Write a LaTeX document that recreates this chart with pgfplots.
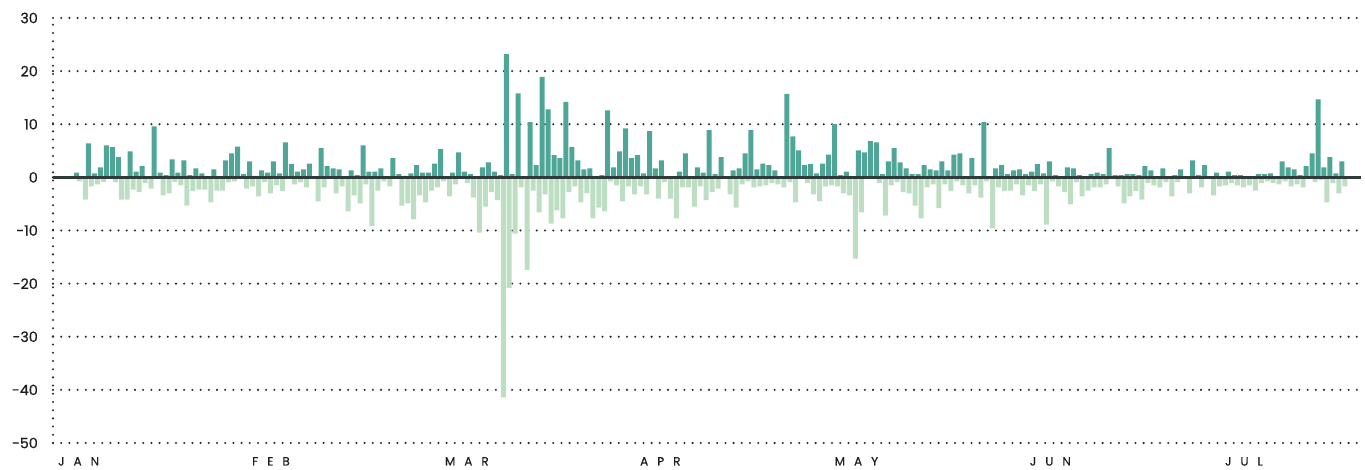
\documentclass[border=0pt]{standalone}
\usepackage{pgfplots}
\pgfplotsset{compat=1.18}
\usepackage{pgfplotstable}
\usepackage{fontspec}
\setmainfont{Poppins}
\newfontfamily\labfont{Poppins}[FakeBold=0.5]
\definecolor{posc}{HTML}{4FA697}
\definecolor{negc}{HTML}{BEDEC4}
\definecolor{zl}{HTML}{2F3B3A}
\definecolor{dotc}{HTML}{2A2A2A}
\definecolor{lbl}{HTML}{1E1E1E}
\newcommand{\ls}[3]{#1\hspace{9pt}#2\hspace{9pt}#3}

\pgfplotstableread{
k pos neg
0 0.9 -0.75
1 0 -4.2
2 6.4 -1.7
3 0.75 -1.3
4 1.9 -0.9
5 6.0 -0.3
6 5.7 -0.9
7 3.8 -4.2
8 0 -4.2
9 4.9 -2.3
10 1.1 -2.8
11 2.1 -1.1
12 0 -2.1
13 9.6 0
14 0.9 -3.4
15 0.4 -3.0
16 3.4 -0.9
17 0.9 -1.5
18 3.2 -5.3
19 0.4 -2.6
20 1.7 -2.3
21 0.75 -2.3
22 0 -4.7
23 1.5 -2.5
24 0 -2.5
25 3.2 -0.9
26 4.5 -0.75
27 5.8 -0.3
28 0.6 -2.1
29 3.0 -1.7
30 0.3 -3.6
31 1.3 -0.9
32 0.9 -3.0
33 3.0 -1.5
34 0.75 -2.6
35 6.6 -0.3
36 2.5 -1.3
37 1.1 -0.9
38 1.5 -1.9
39 2.6 -0.3
40 0 -4.5
41 5.5 -1.9
42 2.1 -0.3
43 1.7 -3.0
44 1.5 -1.7
45 0 -6.4
46 1.3 -3.4
47 0.4 -4.9
48 6.0 -1.3
49 1.1 -9.2
50 1.1 -2.5
51 1.7 -0.75
52 0 -1.7
53 3.6 0
54 0.6 -5.3
55 0.3 -4.9
56 0.75 -7.9
57 2.3 -3.4
58 0.9 -4.7
59 0.9 -2.5
60 2.6 -1.9
61 5.3 -0.75
62 0 -3.6
63 0.9 -1.3
64 4.7 0
65 1.1 -1.1
66 0.6 -3.8
67 0 -10.4
68 1.9 -5.5
69 2.8 -2.8
70 1.1 -4.3
71 0.4 -41.4
72 23.2 -20.8
73 0.6 -10.6
74 15.8 -1.9
75 0 -17.4
76 10.4 -2.5
77 2.3 -6.6
78 18.9 -3.2
79 12.8 -8.7
80 4.2 -6.2
81 3.6 -7.7
82 14.2 -2.8
83 5.7 -1.7
84 3.2 -4.7
85 1.5 -3.0
86 1.7 -7.7
87 0 -5.7
88 0.4 -6.4
89 12.6 -0.75
90 1.9 -1.5
91 4.9 -4.5
92 9.2 -1.7
93 3.6 -3.2
94 4.2 -1.7
95 0.75 -3.2
96 8.7 -0.3
97 1.7 -4.0
98 3.2 -0.9
99 0.2 -4.0
100 0.2 -7.7
101 1.1 -1.9
102 4.5 -1.9
103 0.2 -5.5
104 1.9 -1.7
105 0.9 -4.3
106 8.9 -2.8
107 0.6 -2.1
108 3.8 0
109 0.2 -3.2
110 1.3 -5.7
111 1.7 -1.3
112 4.5 -0.75
113 8.9 -1.9
114 1.5 -1.7
115 2.6 -1.5
116 2.3 -1.1
117 1.3 -1.3
118 0.2 -1.9
119 15.7 -0.9
120 7.7 -4.7
121 5.1 0
122 2.3 -1.1
123 2.5 -3.2
124 0.75 -4.5
125 2.6 -1.7
126 4.3 -1.5
127 10.0 -1.7
128 0.4 -3.0
129 1.1 -3.4
130 0.2 -15.3
131 5.1 -6.6
132 4.7 -0.3
133 6.8 -0.3
134 6.6 -1.1
135 0.6 -7.2
136 3.0 -1.5
137 5.5 -0.9
138 2.8 -2.8
139 1.7 -3.0
140 0.6 -5.3
141 0.6 -7.7
142 2.3 -1.9
143 1.5 -1.3
144 1.3 -5.8
145 3.0 -1.3
146 1.3 -2.6
147 4.3 -0.75
148 4.5 -1.5
149 0 -3.0
150 3.6 -1.5
151 0 -3.8
152 10.4 -0.75
153 0 -9.6
154 1.7 -1.9
155 2.3 -2.6
156 0.6 -2.5
157 1.3 -1.3
158 1.5 -3.4
159 0.6 -1.5
160 1.1 -2.6
161 2.5 -1.3
162 0.75 -8.9
163 3.0 -0.75
164 0.4 -1.7
165 0 -2.8
166 1.9 -5.1
167 1.7 -0.9
168 0.4 -3.6
169 0 -2.5
170 0.6 -1.9
171 0.9 -1.9
172 0.6 -1.3
173 5.5 -0.3
174 0.4 -1.7
175 0.4 -4.9
176 0.6 -3.6
177 0.6 -2.6
178 0.4 -4.2
179 2.1 -1.1
180 1.3 -1.5
181 0 -1.9
182 1.7 -0.9
183 0 -3.6
184 0.4 -0.9
185 1.5 0
186 0 -3.0
187 3.2 -0.3
188 0.4 -1.9
189 2.3 0
190 0 -3.4
191 0.9 -1.7
192 0 -1.5
193 1.1 -1.1
194 0.4 -1.5
195 0.4 -1.9
196 0.2 -1.5
197 0 -2.5
198 0.6 -1.1
199 0.6 -0.75
200 0.75 -1.1
201 0 -1.3
202 3.0 -0.75
203 1.9 -1.7
204 1.5 -1.3
205 0.4 -1.9
206 2.1 -0.3
207 4.5 -0.9
208 14.7 -0.5
209 1.9 -4.7
210 3.8 -1.1
211 0.75 -3.0
212 3.0 -1.7
}\data

\begin{document}
\begin{tikzpicture}
\begin{axis}[
  scale only axis,
  width=1308pt, height=425pt,
  xmin=-3.94, xmax=215.2,
  ymin=-50, ymax=30,
  axis line style={draw=none},
  tick style={draw=none},
  major tick length=0pt,
  ytick={-50,-40,-30,-20,-10,0,10,20,30},
  yticklabels={-50,-40,-30,-20,-10,0,10,20,30},
  ymajorgrids,
  grid style={dotc, line width=2.3pt, line cap=round, dash pattern=on 0pt off 8.2pt},
  yticklabel style={anchor=east, inner sep=0pt, xshift=-15pt, text=lbl,
    font=\labfont\fontsize{14.3}{16}\selectfont},
  xtick={-3.1,29.4,61.7,94.4,127.0,159.7,192.4},
  xticklabels={\ls JAN,\ls FEB,\ls MAR,\ls APR,\ls MAY,\ls JUN,\ls JUL},
  xticklabel style={anchor=base west, inner sep=0pt, yshift=-22.5pt, text=lbl,
    font=\labfont\fontsize{12}{14}\selectfont},
  extra x ticks={-3.94},
  extra x tick labels={},
  extra x tick style={xmajorgrids=true, grid style={dotc, line width=2.3pt, line cap=round, dash pattern=on 0pt off 8.2pt}},
  clip=false,
]
\addplot[ybar, bar width=5pt, bar shift=0pt, fill=negc, draw=none]
  table[x expr=\thisrow{k}+0.5, y=neg]{\data};
\addplot[ybar, bar width=5pt, bar shift=0pt, fill=posc, draw=none]
  table[x=k, y=pos]{\data};
\draw[zl, line width=3.6pt] (rel axis cs:0,0.625) -- (rel axis cs:1,0.625);
\end{axis}
\pgfresetboundingbox
\path[use as bounding box] (-53pt,-27pt) rectangle (1312pt,443pt);
\end{tikzpicture}
\end{document}
